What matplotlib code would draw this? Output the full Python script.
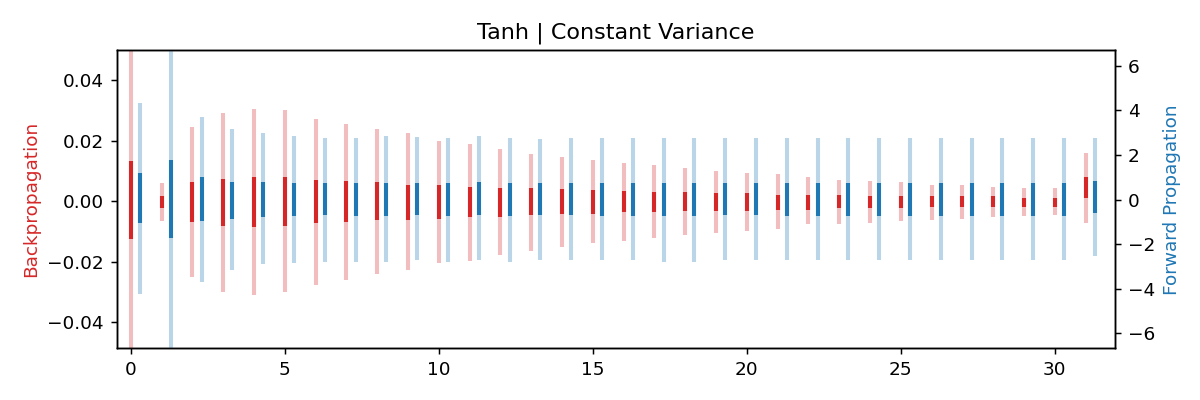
import numpy as np
import matplotlib
matplotlib.use("Agg")
from matplotlib import pyplot as plt

layers = np.arange(32)

# backprop (left axis): outer range and inner band per layer
bwd_lo = [-0.06, -0.0066, -0.0252, -0.0302, -0.0312, -0.0302, -0.0277, -0.0260, -0.0240, -0.0227,
          -0.0205, -0.0198, -0.0177, -0.0166, -0.0153, -0.0139, -0.0131, -0.0122, -0.0113, -0.0106,
          -0.0100, -0.0091, -0.0077, -0.0077, -0.0072, -0.0066, -0.0063, -0.0059, -0.0053, -0.0050,
          -0.0047, -0.0074]
bwd_hi = [0.06, 0.0061, 0.0247, 0.0293, 0.0305, 0.0301, 0.0273, 0.0255, 0.0238, 0.0225,
          0.0199, 0.0188, 0.0172, 0.0157, 0.0147, 0.0135, 0.0127, 0.0119, 0.0109, 0.0100,
          0.0092, 0.0089, 0.0080, 0.0069, 0.0066, 0.0063, 0.0053, 0.0052, 0.0048, 0.0042,
          0.0042, 0.0160]
bwd_std_lo = [-0.0125, -0.0024, -0.0069, -0.0081, -0.0086, -0.0081, -0.0074, -0.0069, -0.0064, -0.0064,
              -0.0059, -0.0053, -0.0052, -0.0047, -0.0044, -0.0041, -0.0037, -0.0037, -0.0033, -0.0033,
              -0.0033, -0.0028, -0.0028, -0.0024, -0.0024, -0.0024, -0.0019, -0.0019, -0.0019, -0.0019,
              -0.0019, 0.0011]
bwd_std_hi = [0.0133, 0.0017, 0.0064, 0.0075, 0.0080, 0.0080, 0.0069, 0.0066, 0.0063, 0.0055,
              0.0052, 0.0048, 0.0042, 0.0042, 0.0039, 0.0036, 0.0033, 0.0030, 0.0030, 0.0026,
              0.0026, 0.0022, 0.0022, 0.0022, 0.0017, 0.0017, 0.0017, 0.0016, 0.0016, 0.0011,
              0.0011, 0.0080]

# forward (right axis)
fwd_lo = [-4.24, -7.5, -3.69, -3.16, -2.89, -2.83, -2.79, -2.79, -2.79, -2.71,
          -2.79, -2.71, -2.79, -2.71, -2.71, -2.71, -2.71, -2.79, -2.79, -2.71,
          -2.71, -2.71, -2.71, -2.71, -2.71, -2.71, -2.71, -2.71, -2.71, -2.71,
          -2.71, -2.53]
fwd_hi = [4.31, 7.5, 3.71, 3.15, 2.97, 2.86, 2.77, 2.77, 2.85, 2.79,
          2.77, 2.85, 2.77, 2.70, 2.77, 2.77, 2.77, 2.77, 2.77, 2.77,
          2.77, 2.77, 2.77, 2.77, 2.77, 2.77, 2.77, 2.77, 2.77, 2.77,
          2.77, 2.77]
fwd_std_lo = [-1.07, -1.71, -0.95, -0.89, -0.77, -0.74, -0.70, -0.74, -0.72, -0.70,
              -0.74, -0.70, -0.74, -0.70, -0.70, -0.74, -0.74, -0.74, -0.74, -0.70,
              -0.70, -0.72, -0.72, -0.72, -0.72, -0.72, -0.72, -0.72, -0.72, -0.74,
              -0.72, -0.59]
fwd_std_hi = [1.17, 1.77, 1.00, 0.80, 0.80, 0.73, 0.73, 0.73, 0.73, 0.73,
              0.73, 0.80, 0.73, 0.73, 0.73, 0.73, 0.73, 0.73, 0.73, 0.73,
              0.73, 0.73, 0.73, 0.73, 0.73, 0.73, 0.73, 0.73, 0.73, 0.73,
              0.73, 0.84]

offset = 0.3
lw = 2.2

fig, ax1 = plt.subplots(figsize=(9, 3), dpi=400 / 3)
ax2 = ax1.twinx()

ax1.vlines(layers, bwd_lo, bwd_hi, color="tab:red", alpha=0.3, lw=lw)
ax1.vlines(layers, bwd_std_lo, bwd_std_hi, color="tab:red", lw=lw)
ax2.vlines(layers + offset, fwd_lo, fwd_hi, color="tab:blue", alpha=0.3, lw=lw)
ax2.vlines(layers + offset, fwd_std_lo, fwd_std_hi, color="tab:blue", lw=lw)

ax1.set_xlim(-0.45, 31.95)
ax1.set_ylim(-0.0488, 0.0501)
ax2.set_ylim(-6.67, 6.70)
ax1.set_xticks([0, 5, 10, 15, 20, 25, 30])
ax1.set_yticks([-0.04, -0.02, 0.0, 0.02, 0.04])
ax2.set_yticks([-6, -4, -2, 0, 2, 4, 6])

ax1.set_ylabel("Backpropagation", color="tab:red")
ax2.set_ylabel("Forward Propagation", color="tab:blue")
ax1.set_title("Tanh | Constant Variance")

fig.subplots_adjust(left=0.0975, right=0.929, bottom=0.129, top=0.875)
fig.savefig("out.png")
